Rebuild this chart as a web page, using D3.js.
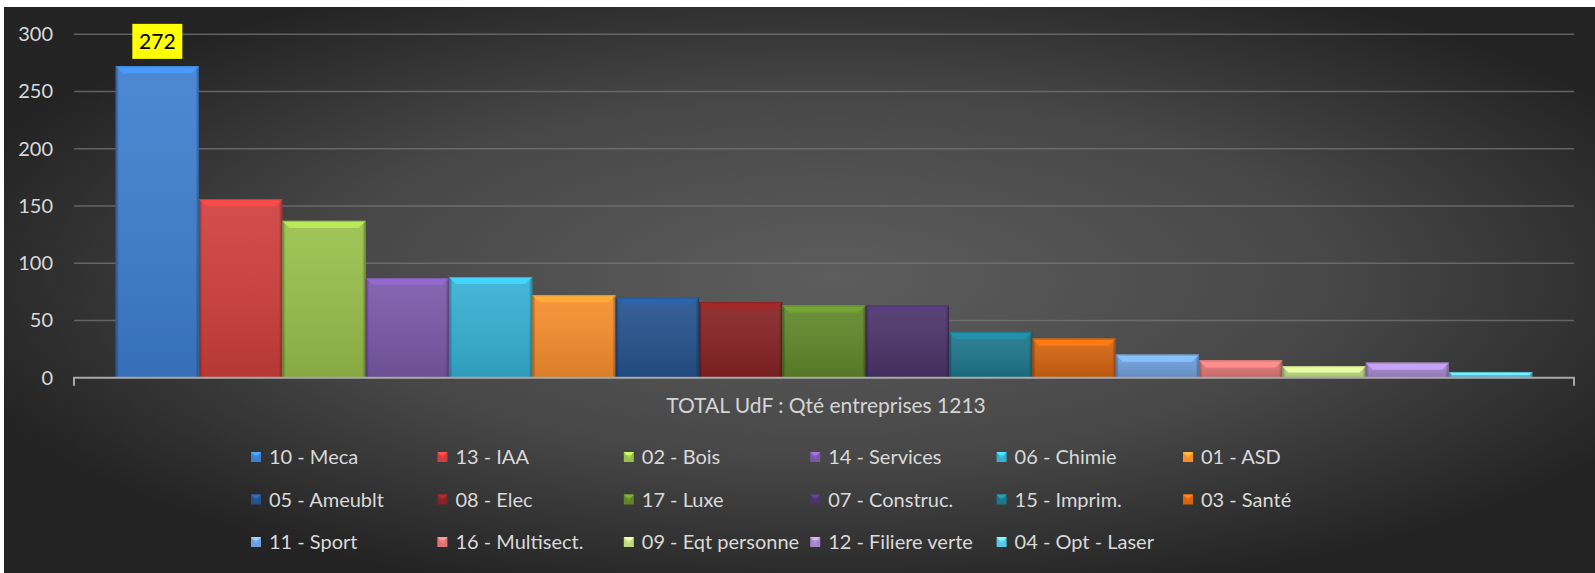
<!DOCTYPE html>
<html><head><meta charset="utf-8">
<script src="https://cdn.jsdelivr.net/npm/d3@7"></script>
<style>
html,body{margin:0;padding:0;background:#fff;}
svg{display:block;}
text{font-family:Lato,"Open Sans",sans-serif;}
</style></head>
<body><svg id="c" width="1595" height="573"></svg>
<script>
const categories = ["10 - Meca","13 - IAA","02 - Bois","14 - Services","06 - Chimie","01 - ASD",
  "05 - Ameublt","08 - Elec","17 - Luxe","07 - Construc.","15 - Imprim.","03 - Santé",
  "11 - Sport","16 - Multisect.","09 - Eqt personne","12 - Filiere verte","04 - Opt - Laser"];
const values = [272,156,137,87,88,72,70,66,63,63,40,34,20,15,10,13,5];
const colors = ["#3d7ecf","#cf3e3c","#98c04a","#7a58a8","#35b0d3","#f68e2c",
  "#24528d","#862222","#5f8729","#4a3369","#1c778b","#d4640f",
  "#6f9fdc","#dd7573","#c0da84","#a386cc","#5ac7e4"];
const yTicks = [0,50,100,150,200,250,300];
const labelIndex = 0;
const totalLabel = "TOTAL UdF : Qté entreprises 1213";

const svg = d3.select("#c");
const W = 1595, H = 573;
const defs = svg.append("defs");

// background
const bg = defs.append("radialGradient").attr("id","bg").attr("cx","52%").attr("cy","48%").attr("r","58%");
bg.append("stop").attr("offset","0%").attr("stop-color","#5d5d5d");
bg.append("stop").attr("offset","55%").attr("stop-color","#474747");
bg.append("stop").attr("offset","100%").attr("stop-color","#232323");
svg.append("rect").attr("x",4).attr("y",7).attr("width",W-4).attr("height",H-7).attr("fill","url(#bg)");

// overlays for bevel look
const vg = defs.append("linearGradient").attr("id","vshade").attr("x1",0).attr("y1",0).attr("x2",0).attr("y2",1);
vg.append("stop").attr("offset","0%").attr("stop-color","#fff").attr("stop-opacity",0.08);
vg.append("stop").attr("offset","100%").attr("stop-color","#000").attr("stop-opacity",0.12);
const hg = defs.append("linearGradient").attr("id","hshade").attr("x1",0).attr("y1",0).attr("x2",1).attr("y2",0);
hg.append("stop").attr("offset","0%").attr("stop-color","#000").attr("stop-opacity",0.35);
hg.append("stop").attr("offset","4%").attr("stop-color","#000").attr("stop-opacity",0.0);
hg.append("stop").attr("offset","96%").attr("stop-color","#000").attr("stop-opacity",0.0);
hg.append("stop").attr("offset","100%").attr("stop-color","#000").attr("stop-opacity",0.35);

const x = d3.scaleBand().domain(categories).range([74,1574]).paddingInner(0).paddingOuter(0.5);
const y = d3.scaleLinear().domain([0,300]).range([377.7,34.3]);

// gridlines
svg.append("g").selectAll("line").data(yTicks.filter(d=>d>0)).join("line")
  .attr("x1",74).attr("x2",1574).attr("y1",d=>y(d)).attr("y2",d=>y(d))
  .attr("stroke","#777").attr("stroke-opacity",0.75).attr("stroke-width",1.5);

// y axis labels
const yAxis = d3.axisLeft(y).tickValues(yTicks).tickSize(0).tickPadding(21);
const ga = svg.append("g").attr("transform","translate(74,0)").call(yAxis);
ga.select(".domain").remove();
ga.selectAll("text").attr("fill","#d9d9d9").style("font-size","20px").style("font-family","Lato");

// bars
const bars = svg.append("g").selectAll("g").data(categories).join("g");
bars.each(function(c,i){
  const g = d3.select(this);
  const x0 = x(c), bw = x.bandwidth(), y0 = y(values[i]), y1 = y(0), h = y1-y0;
  const base = d3.color(colors[i]);
  g.append("rect").attr("x",x0).attr("y",y0).attr("width",bw).attr("height",h).attr("fill",base);
  g.append("rect").attr("x",x0).attr("y",y0).attr("width",bw).attr("height",h).attr("fill","url(#vshade)");
  g.append("rect").attr("x",x0).attr("y",y0).attr("width",bw).attr("height",h).attr("fill","url(#hshade)");
  const b = Math.min(7, h*0.55);
  g.append("polygon")
    .attr("points",[[x0,y0],[x0+bw,y0],[x0+bw-b,y0+b],[x0+b,y0+b]].map(p=>p.join(",")).join(" "))
    .attr("fill",base.brighter(0.55));
  g.append("line").attr("x1",x0+0.5).attr("x2",x0+bw-0.5).attr("y1",y0+0.5).attr("y2",y0+0.5)
    .attr("stroke",base.brighter(1.0)).attr("stroke-width",1);
  g.append("rect").attr("x",x0+0.5).attr("y",y0+0.5).attr("width",bw-1).attr("height",h-1)
    .attr("fill","none").attr("stroke",base.darker(0.6)).attr("stroke-width",1).attr("stroke-opacity",0.7);
});

// x axis line with end ticks
svg.append("path")
  .attr("d",`M74,${y(0)+8}V${y(0)}H1574V${y(0)+8}`)
  .attr("fill","none").attr("stroke","#a9a9a9").attr("stroke-width",2);

// data label
const lc = categories[labelIndex];
const lx = x(lc)+x.bandwidth()/2, ly = y(values[labelIndex]) - 25;
svg.append("rect").attr("x",lx-25).attr("y",ly-17.5).attr("width",50).attr("height",35).attr("fill","#ffff00");
svg.append("text").attr("x",lx).attr("y",ly).attr("dy","0.35em").attr("text-anchor","middle")
  .attr("fill","#000").style("font-size","21px").text(values[labelIndex]);

// axis title
svg.append("text").attr("x",826).attr("y",406).attr("dy","0.35em").attr("text-anchor","middle")
  .attr("fill","#d4d4d4").style("font-size","21px").text(totalLabel);

// legend
const lg = svg.append("g").selectAll("g").data(categories).join("g")
  .attr("transform",(d,i)=>`translate(${251 + (i%6)*186.4},${457 + Math.floor(i/6)*42.5})`);
lg.each(function(c,i){
  const g = d3.select(this);
  const base = d3.color(colors[i]);
  g.append("rect").attr("x",0).attr("y",-5).attr("width",10).attr("height",10).attr("fill",base);
  g.append("polygon").attr("points","0,-5 10,-5 7,-1.5 3,-1.5").attr("fill",base.brighter(0.8));
  g.append("polygon").attr("points","3,-1.5 7,-1.5 5,1.8").attr("fill",base.brighter(0.3));
  g.append("text").attr("x",18).attr("y",0).attr("dy","0.35em").attr("fill","#d9d9d9")
    .style("font-size","20px").text(c);
});
</script></body></html>
